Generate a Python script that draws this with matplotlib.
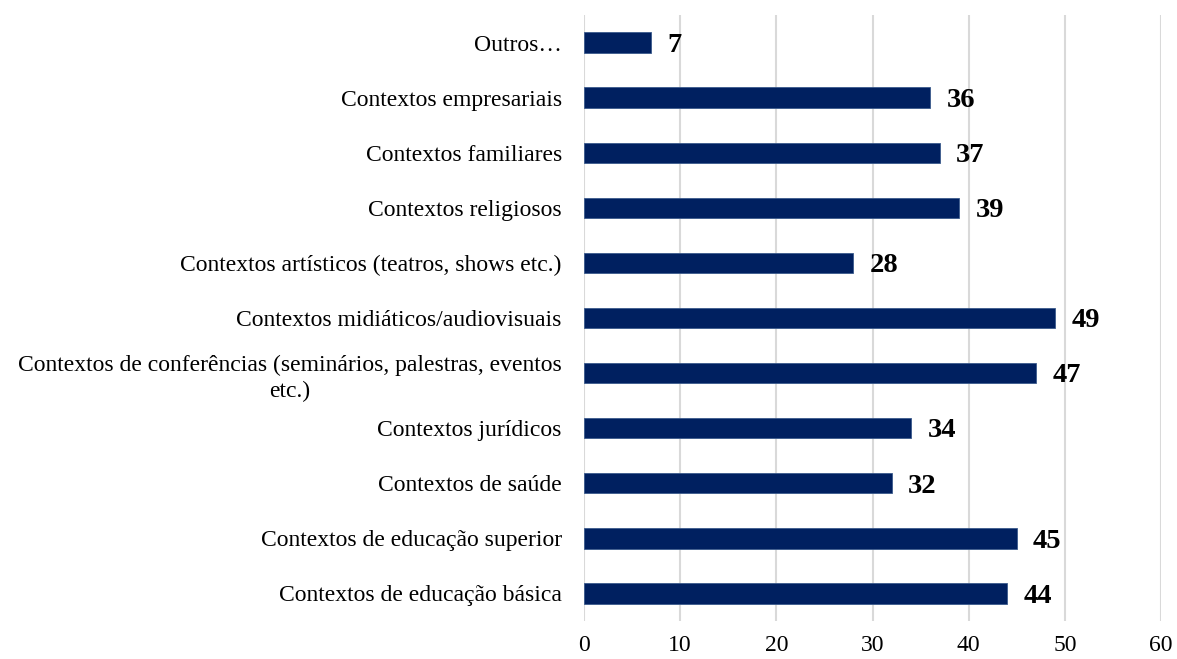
import matplotlib.pyplot as plt

plt.rcParams['font.family'] = ['Liberation Serif', 'DejaVu Serif']

# categorias de baixo para cima
contextos = [
    'Contextos de educação básica',
    'Contextos de educação superior',
    'Contextos de saúde',
    'Contextos jurídicos',
    'Contextos de conferências (seminários, palestras, eventos\netc.)',
    'Contextos midiáticos/audiovisuais',
    'Contextos artísticos (teatros, shows etc.)',
    'Contextos religiosos',
    'Contextos familiares',
    'Contextos empresariais',
    'Outros…',
]
respostas = [44, 45, 32, 34, 47, 49, 28, 39, 37, 36, 7]
xticks = [0, 10, 20, 30, 40, 50, 60]

fig = plt.figure(figsize=(11.77, 6.59), dpi=100)
ax = fig.add_axes([584 / 1177, 1 - 621 / 659, 577 / 1177, 606 / 659])

pos = range(len(contextos))
ax.barh(pos, respostas, height=0.37, color='#002060', edgecolor='#3a5a8c',
        linewidth=0.6, zorder=3)
for y, v in zip(pos, respostas):
    ax.text(v + 1.7, y - 0.05, str(v), va='center', ha='left', fontsize=20.5,
            fontweight='bold', color='black')

ax.set_xlim(0, 60)
ax.set_ylim(-0.5, len(contextos) - 0.5)
ax.set_xticks(xticks)
ax.set_yticks(list(pos))
ax.set_yticklabels(contextos, multialignment='center', linespacing=1.3)
ax.tick_params(axis='both', length=0, labelsize=17)
ax.tick_params(axis='y', pad=16)
ax.tick_params(axis='x', pad=10)
ax.grid(axis='x', color='#d9d9d9', linewidth=1.5, zorder=0)
for s in ax.spines.values():
    s.set_visible(False)

fig.savefig('out.png', dpi=100)
